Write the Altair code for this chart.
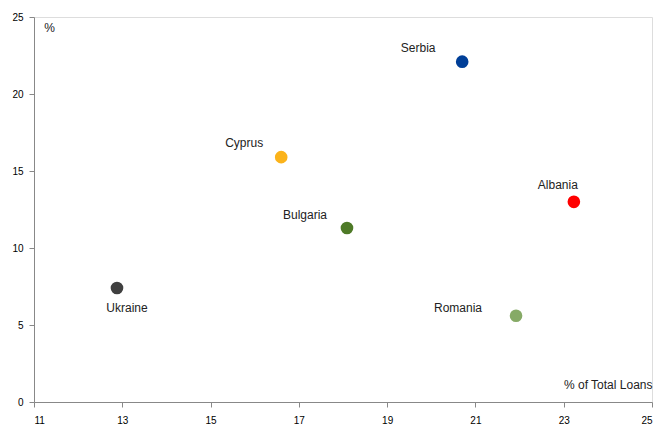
import altair as alt
import pandas as pd

countries = ["Serbia", "Cyprus", "Bulgaria", "Albania", "Romania", "Ukraine"]
loans_share = [20.70, 16.60, 18.09, 23.23, 21.92, 12.88]
y_values = [22.1, 15.9, 11.3, 13.0, 5.6, 7.4]
colors = ["#003f98", "#fbb31b", "#4e7a27", "#ff0000", "#86aa66", "#404040"]
x_ticks = [11, 13, 15, 17, 19, 21, 23, 25]
y_ticks = [0, 5, 10, 15, 20, 25]

df = pd.DataFrame({"country": countries, "x": loans_share, "y": y_values, "color": colors})

FONT = "Liberation Sans"

xs = alt.Scale(domain=[11, 25], nice=False, zero=False)
ys = alt.Scale(domain=[0, 25], nice=False)

base = alt.Chart(df)

points = base.mark_circle(size=160, opacity=1).encode(
    x=alt.X("x:Q", scale=xs, axis=alt.Axis(
        values=x_ticks, title="% of Total Loans", grid=False,
        titleX=618, titleY=-18, titleAlign="right", titleBaseline="middle",
        titleAnchor=None, titleFontWeight="normal", titleFont=FONT, titleFontSize=12,
        titleColor="#222222", labelPadding=8)),
    y=alt.Y("y:Q", scale=ys, axis=alt.Axis(
        values=y_ticks, title="%", grid=False, titleAngle=0,
        titleX=15, titleY=10, titleAlign="center", titleBaseline="middle",
        titleFontWeight="normal", titleFont=FONT, titleFontSize=12,
        titleColor="#222222", labelPadding=6)),
    color=alt.Color("color:N", scale=None),
)

offsets = {
    "Serbia": (-44, -14),
    "Cyprus": (-37, -14),
    "Bulgaria": (-42, -13),
    "Albania": (-16, -17),
    "Romania": (-58, -8),
    "Ukraine": (10, 20),
}

layers = [points]
for c in countries:
    dx, dy = offsets[c]
    layers.append(
        base.transform_filter(alt.datum.country == c).mark_text(
            dx=dx, dy=dy, font=FONT, fontSize=12, color="#222222", baseline="middle"
        ).encode(x=alt.X("x:Q", scale=xs), y=alt.Y("y:Q", scale=ys), text="country:N")
    )

chart = alt.layer(*layers).properties(
    width=618, height=385,
    autosize=alt.AutoSizeParams(type="none"),
    padding={"left": 34, "top": 17, "right": 7, "bottom": 24},
).configure_view(stroke=None).configure_axis(
    domainColor="#000000", tickColor="#000000", tickSize=4, domainWidth=1, tickWidth=1,
    labelFont=FONT, labelFontSize=12, labelColor="#111111",
).configure(background="white")

chart.save("out.html", embed_options={"renderer": "svg", "actions": False})
